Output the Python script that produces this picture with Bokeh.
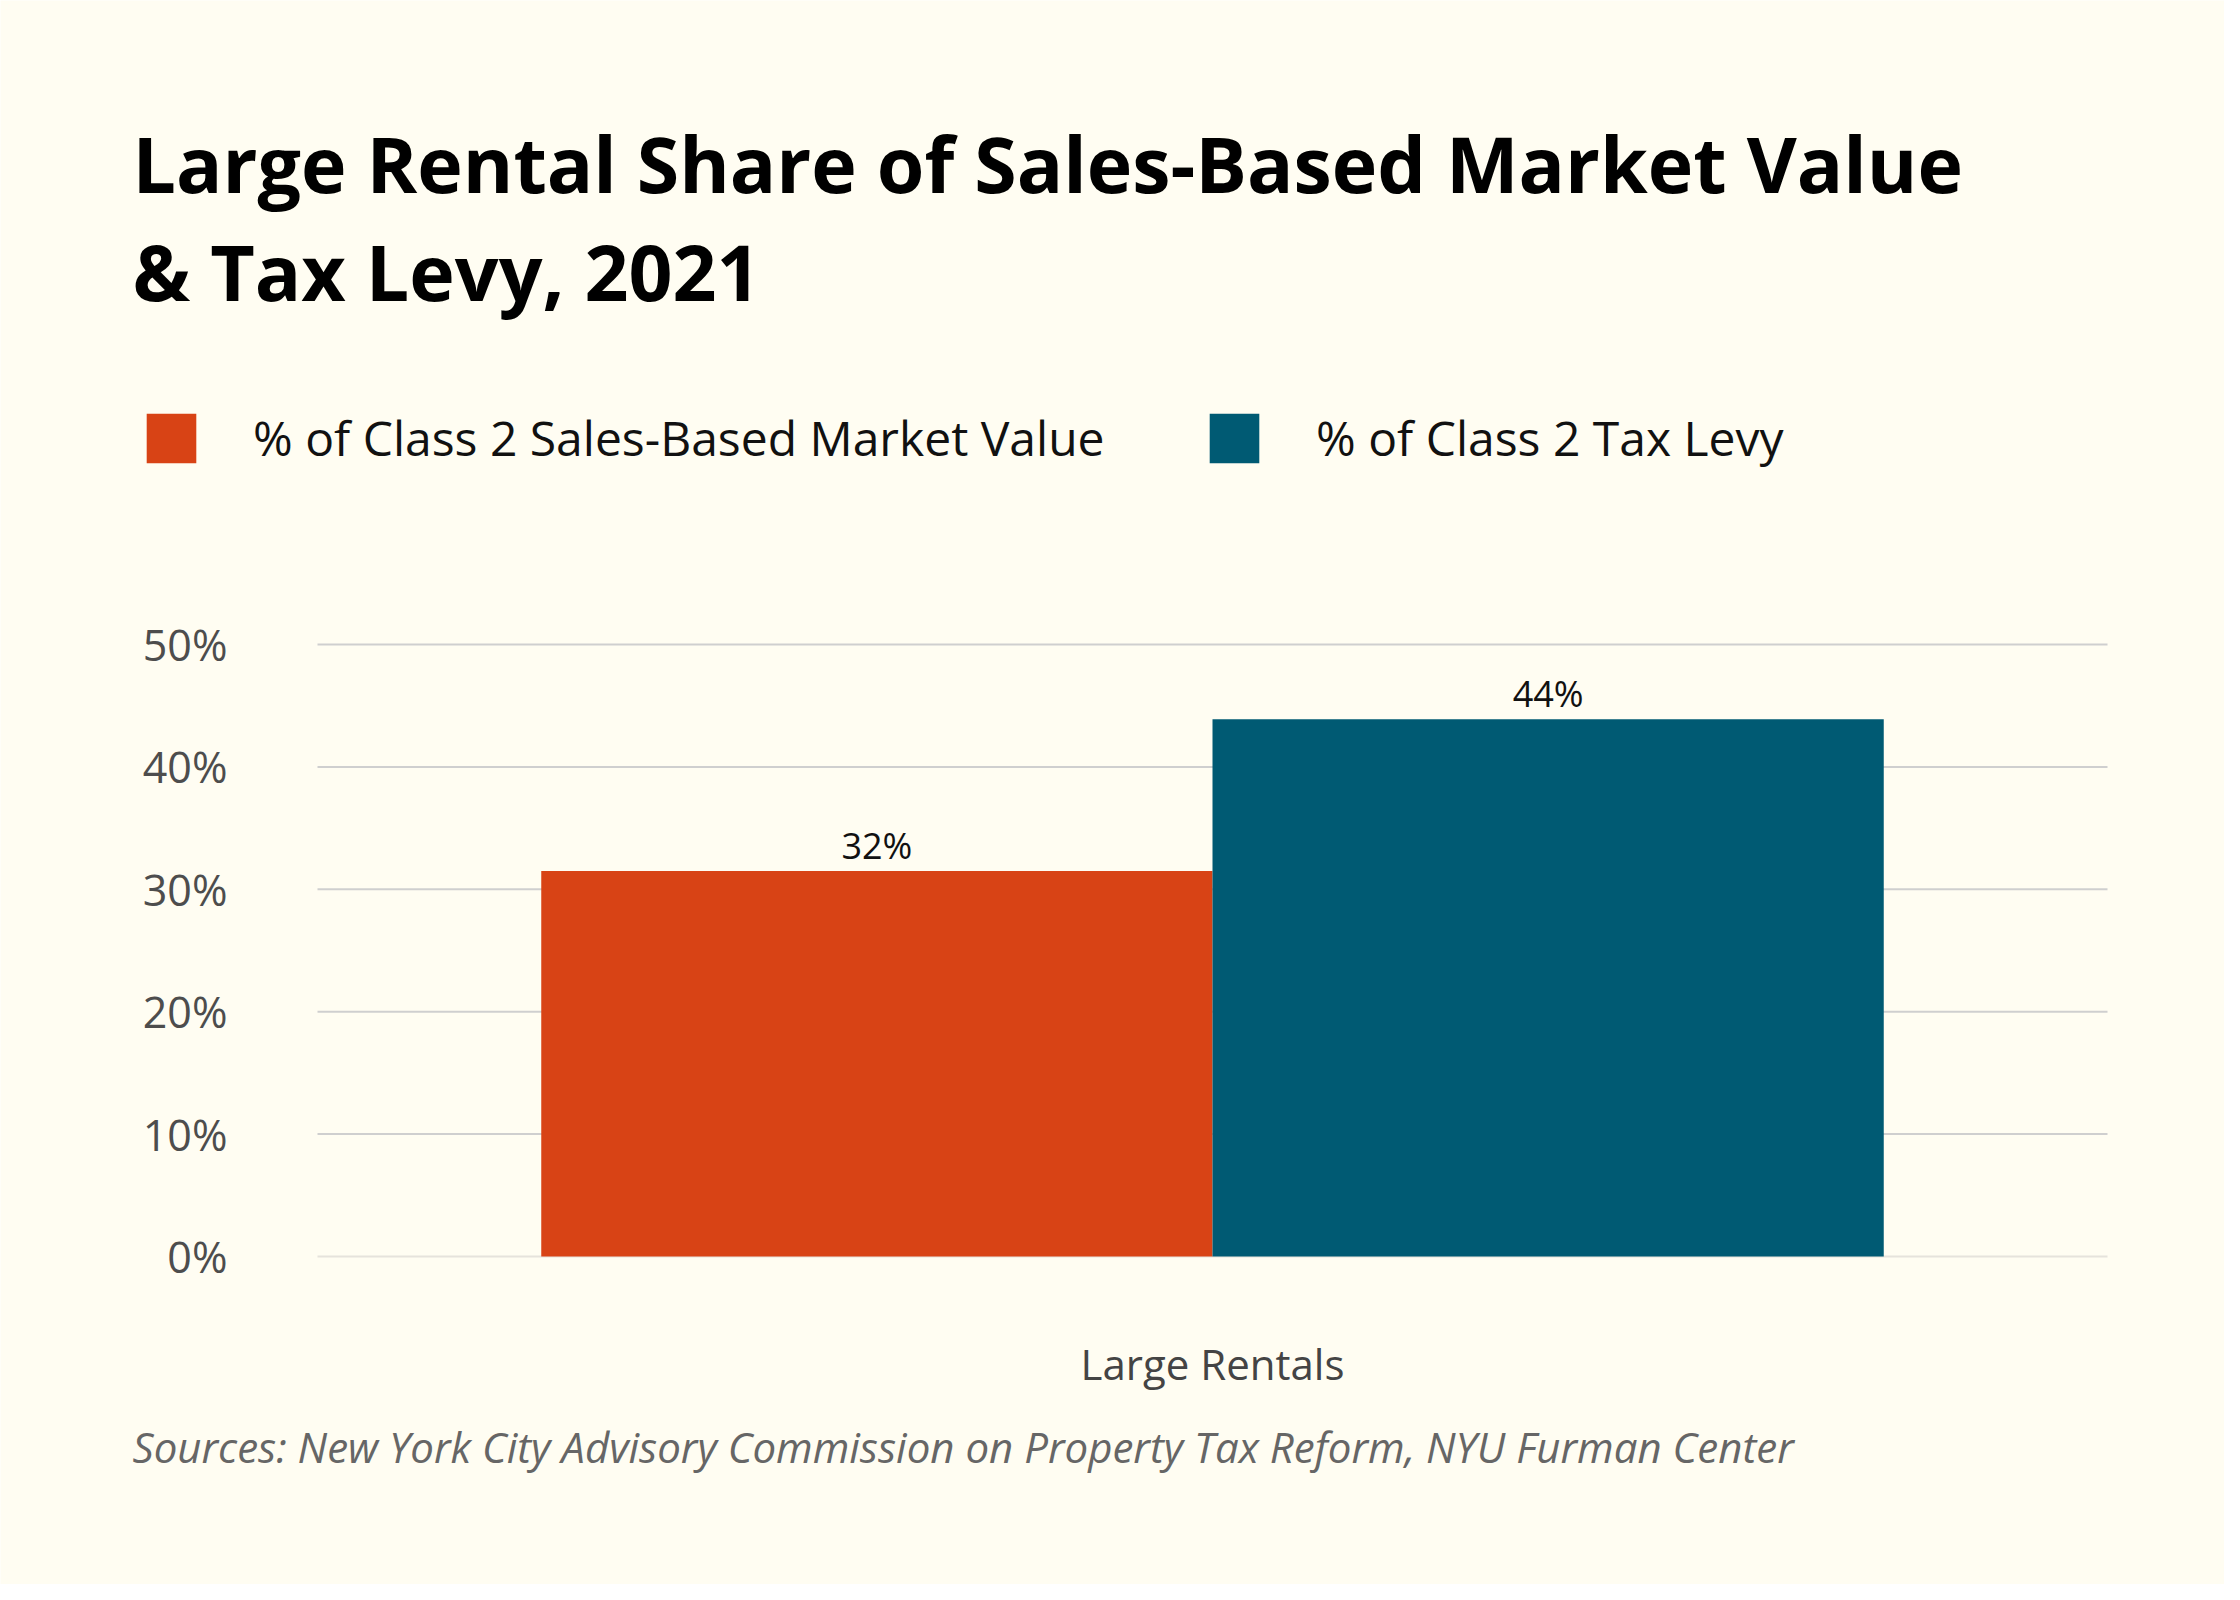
from bokeh.plotting import figure
from bokeh.models import (Range1d, ColumnDataSource, LabelSet, Label, Legend, LegendItem)
from bokeh.core.properties import value
from bokeh.transform import dodge
from bokeh.embed import file_html
from bokeh.resources import INLINE

# ---- data ----
categories = ["Large Rentals"]
series_names = ["% of Class 2 Sales-Based Market Value", "% of Class 2 Tax Levy"]
market_value = [31.5]
tax_levy = [43.9]
market_value_labels = ["32%"]
tax_levy_labels = ["44%"]
y_ticks = [0, 10, 20, 30, 40, 50]
y_tick_labels = ["0%", "10%", "20%", "30%", "40%", "50%"]

title_lines = ["Large Rental Share of Sales-Based Market Value", "& Tax Levy, 2021"]
source_note = "Sources: New York City Advisory Commission on Property Tax Reform, NYU Furman Center"

# ---- style / layout ----
BG = "#FFFDF2"
ORANGE = "#D84315"
BLUE = "#005A73"
GRID = "#CFCFCF"
GRID0 = "#E6E3DC"
FONT = "Open Sans"

W, H = 2224, 1584
PLOT_L, PLOT_R = 317, 2107      # plotting area (canvas px)
PLOT_T, PLOT_B = 644, 1256
Y_MAX = 50

n = len(categories)
px_per_cat = (PLOT_R - PLOT_L) / n
px_per_unit = (PLOT_B - PLOT_T) / Y_MAX
x_range = Range1d(-PLOT_L / px_per_cat, n + (W - PLOT_R) / px_per_cat)
y_range = Range1d(-(H - PLOT_B) / px_per_unit, Y_MAX + PLOT_T / px_per_unit)

p = figure(width=W, height=H, x_range=x_range, y_range=y_range,
           x_axis_type=None, y_axis_type=None, output_backend="svg", toolbar_location=None,
           min_border_left=0, min_border_right=0, min_border_top=0, min_border_bottom=0)
p.background_fill_color = BG
p.border_fill_color = BG
p.outline_line_color = None
p.grid.grid_line_color = None

# ---- y grid + tick labels (from the tick list) ----
gsrc = ColumnDataSource(dict(
    y=y_ticks, lab=y_tick_labels, x0=[0] * len(y_ticks), x1=[n] * len(y_ticks),
    color=[GRID0 if t == 0 else GRID for t in y_ticks]))
p.segment(x0="x0", y0="y", x1="x1", y1="y", line_color="color", line_width=2, source=gsrc)
p.add_layout(LabelSet(x="x0", y="y", text="lab", source=gsrc, x_offset=-90,
                      text_align="right", text_baseline="middle",
                      text_font=value(FONT), text_font_size="43px", text_color="#4D4D4D"))

# ---- bars ----
bw = 0.375
src = ColumnDataSource(dict(x=[i + 0.5 for i in range(n)], cat=categories,
                            mv=market_value, tl=tax_levy,
                            mv_lab=market_value_labels, tl_lab=tax_levy_labels))
r1 = p.vbar(x=dodge("x", -bw / 2), top="mv", width=bw, source=src,
            fill_color=ORANGE, line_color=None)
r2 = p.vbar(x=dodge("x", bw / 2), top="tl", width=bw, source=src,
            fill_color=BLUE, line_color=None)

for col, lab, off in (("mv", "mv_lab", -bw / 2), ("tl", "tl_lab", bw / 2)):
    p.add_layout(LabelSet(x=dodge("x", off), y=col, text=lab, source=src,
                          text_align="center", text_baseline="bottom", y_offset=1,
                          text_font=value(FONT), text_font_size="36px", text_color="#111111"))

# category label (x axis)
p.add_layout(LabelSet(x="x", y=0, text="cat", source=src, y_offset=-107,
                      text_align="center", text_baseline="middle",
                      text_font=value(FONT), text_font_size="42px", text_color="#444444"))

# ---- legend ----
for rend, name, x in ((r1, series_names[0], 140), (r2, series_names[1], 1203)):
    lg = Legend(items=[LegendItem(label=name, renderers=[rend])], location=(x, H - 470),
                orientation="horizontal", glyph_width=62, glyph_height=62,
                label_standoff=51, label_text_font=FONT, label_text_font_size="48px",
                label_text_color="#111111", padding=0, margin=0, spacing=0,
                border_line_color=None, background_fill_alpha=0, label_height=62)
    p.add_layout(lg, "center")

# ---- title & sources ----
for txt, y in zip(title_lines, (163, 271)):
    p.add_layout(Label(x=132, y=H - y, x_units="screen", y_units="screen", text=txt,
                       text_font=FONT, text_font_style="bold", text_font_size="77px",
                       text_color="#000000", text_baseline="alphabetic"))
p.add_layout(Label(x=132, y=H - 1446, x_units="screen", y_units="screen", text=source_note,
                   text_font=FONT, text_font_style="italic", text_font_size="42px",
                   text_color="#666666", text_baseline="middle"))

open("out.html", "w").write(file_html(p, INLINE))
